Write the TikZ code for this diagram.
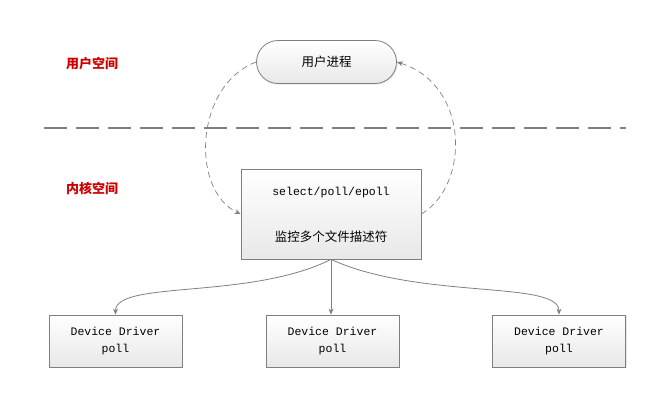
\documentclass[tikz,border=0pt]{standalone}
\usepackage{fontspec}
\newfontfamily\cjk{Noto Sans CJK SC}
\setmonofont{Liberation Mono}
\usetikzlibrary{shapes.misc,shadows,arrows.meta}
\definecolor{edgegray}{HTML}{7F7F7F}
\definecolor{labelred}{HTML}{CC0000}
\tikzset{
  boxstyle/.style={draw=edgegray, line width=0.8pt, top color=white, bottom color=black!9,
    drop shadow={opacity=0.18, shadow xshift=1.2pt, shadow yshift=-1.2pt}, align=center, inner sep=0pt},
  pilltext/.style={font=\cjk\fontsize{12.5}{14}\selectfont},
  monotext/.style={font=\ttfamily\fontsize{11.5}{17}\selectfont},
  spacelabel/.style={text=labelred, font=\cjk\bfseries\fontsize{13}{15}\selectfont},
  dashconn/.style={draw=edgegray, line width=0.7pt, dash pattern=on 6pt off 4pt, -{Stealth[length=6pt,width=5pt]}},
  solidconn/.style={draw=edgegray, line width=0.8pt, -{Stealth[length=6pt,width=5pt]}},
}
\begin{document}
\begin{tikzpicture}[x=1pt,y=-1pt]
\useasboundingbox (0,0) rectangle (666,408);
% separator
\draw[draw=edgegray, line width=2pt, dash pattern=on 23pt off 9pt] (44,128) -- (626,128);
% labels
\node[spacelabel] (lu) at (92,64) {用户空间};
\node[spacelabel] (lk) at (92,188) {内核空间};
% user process
\node[boxstyle, rounded rectangle, minimum width=140pt, minimum height=43pt, pilltext] (up) at (326.5,62) {用户进程};
% select box
\node[boxstyle, rectangle, minimum width=180pt, minimum height=90pt] (sel) at (331,214) {};
\node[monotext] (selt) at (331,193) {select/poll/epoll};
\node[pilltext] (selc) at (331,237) {监控多个文件描述符};
% drivers
\node[boxstyle, rectangle, minimum width=133pt, minimum height=52pt, monotext] (d1) at (115.5,341) {Device Driver\\poll};
\node[boxstyle, rectangle, minimum width=133pt, minimum height=52pt, monotext] (d2) at (332.5,341) {Device Driver\\poll};
\node[boxstyle, rectangle, minimum width=133pt, minimum height=52pt, monotext] (d3) at (559,341) {Device Driver\\poll};
% dashed loops
\draw[dashconn] (up.west) .. controls (195,85) and (190,190) .. (sel.west);
\draw[dashconn] (sel.east) .. controls (470,185) and (470,85) .. (up.east);
% fan out
\draw[solidconn] (sel.south) .. controls (250,300) and (115.5,280) .. (d1.north);
\draw[solidconn] (sel.south) -- (sel.south |- d2.north);
\draw[solidconn] (sel.south) .. controls (420,300) and (559,280) .. (d3.north);
\end{tikzpicture}
\end{document}
